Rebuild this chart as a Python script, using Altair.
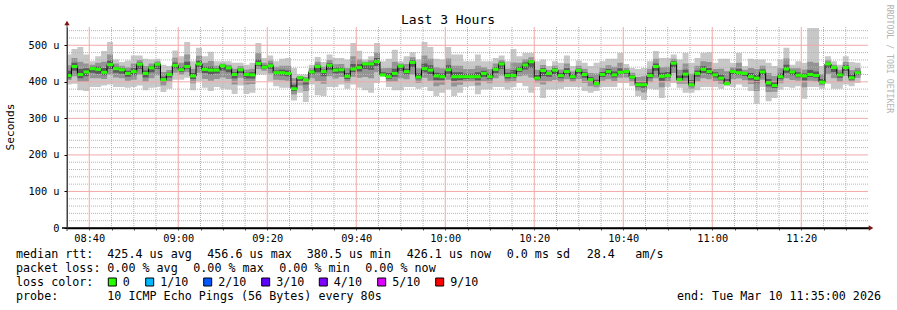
import altair as alt
import pandas as pd
from datetime import datetime, timedelta

MONO = "DejaVu Sans Mono"

# ---- data (values in microseconds) ----
MEDIAN = [417,442,420,427,436,434,426,447,436,433,
          423,428,448,423,438,448,406,420,445,433,
          442,416,449,434,432,432,444,438,420,433,
          420,419,450,440,444,425,425,423,381,411,
          405,427,442,428,445,432,433,415,435,439,
          449,449,455,419,414,423,443,428,453,413,
          436,432,416,414,433,414,414,414,414,414,
          423,414,434,449,417,417,434,446,455,410,
          431,423,432,417,428,414,431,420,406,395,
          420,428,419,426,428,413,392,392,417,442,
          415,417,451,406,421,392,423,434,428,419,
          410,395,428,425,423,414,410,427,397,390,
          414,435,427,418,416,420,417,399,449,439,
          419,439,411,425]
MAX = [475,490,495,475,456,470,484,509,461,454,
       458,472,472,463,461,463,447,443,486,470,
       509,456,493,470,482,456,456,456,452,452,
       447,452,506,465,472,456,463,465,438,420,
       420,447,468,454,475,465,465,461,506,485,
       461,470,506,456,463,488,456,470,481,461,
       509,495,463,461,495,475,475,456,456,475,
       456,456,465,472,456,490,470,479,479,456,
       461,443,456,452,472,443,458,452,443,452,
       456,463,463,479,449,438,435,438,456,484,
       465,465,475,461,479,452,465,479,481,452,
       463,463,452,479,443,463,461,461,452,443,
       461,493,447,456,452,547,547,443,470,456,
       447,470,454,452]
MIN = [393,395,377,375,386,386,390,393,386,386,
       384,386,390,377,384,386,372,381,406,406,
       411,377,402,384,375,386,381,379,367,390,
       367,370,420,420,402,388,384,384,349,370,
       345,393,363,361,386,386,393,381,393,384,
       377,370,397,414,386,377,377,386,386,381,
       386,375,361,370,379,361,370,386,388,366,
       379,379,386,386,379,386,397,388,370,386,
       356,379,379,381,386,386,386,375,370,375,
       386,386,386,397,397,388,361,350,381,379,
       356,386,397,384,370,370,377,386,386,386,
       381,388,386,393,386,375,340,386,347,356,
       379,386,384,388,354,386,386,381,395,381,
       381,393,388,397]
HI2 = [445,465,455,450,447,452,455,475,450,444,
       440,450,460,443,450,456,427,432,466,452,
       475,436,471,452,457,444,450,447,436,443,
       434,436,478,452,458,441,444,444,410,416,
       413,437,455,441,460,448,449,438,470,462,
       455,460,480,437,438,455,450,449,467,437,
       472,463,440,437,464,444,444,435,435,444,
       440,435,450,460,436,453,452,462,467,433,
       446,433,444,434,450,428,444,436,424,423,
       438,445,441,452,438,425,413,415,436,463,
       440,441,463,433,450,422,444,456,454,435,
       436,429,440,452,433,438,435,444,424,416,
       437,464,437,437,434,455,452,421,459,447,
       433,454,432,438]
LO2 = [405,415,400,400,410,410,408,420,412,410,
       403,406,420,400,410,418,390,400,425,420,
       426,396,425,408,403,408,412,408,393,411,
       393,394,435,430,423,406,404,403,365,390,
       375,410,402,395,415,409,413,398,414,411,
       413,410,426,416,400,400,410,407,420,397,
       411,403,388,392,406,387,392,400,401,390,
       401,396,410,417,398,401,415,417,412,398,
       393,401,405,399,407,400,408,397,388,385,
       403,407,402,411,412,400,376,371,399,410,
       385,401,424,395,395,381,400,410,407,402,
       395,391,407,409,404,394,375,406,372,373,
       396,410,405,403,385,403,401,390,422,410,
       400,416,400,411]
HI3 = [430,452,435,437,441,442,438,458,441,438,
       430,437,453,431,443,451,414,425,453,440,
       455,424,458,441,442,437,447,442,426,437,
       425,426,461,445,450,431,433,431,392,413,
       408,431,447,433,451,439,439,424,449,448,
       451,453,465,426,424,436,446,436,459,423,
       450,445,425,423,445,426,426,422,422,426,
       430,422,440,454,425,432,441,453,460,419,
       437,427,437,424,437,420,436,426,413,406,
       427,435,428,437,432,418,400,401,425,450,
       425,427,456,417,433,404,431,443,438,426,
       420,408,433,436,427,424,420,434,408,401,
       423,447,431,426,423,432,428,408,453,442,
       425,445,420,430]
LO3 = [410,430,410,415,425,422,418,435,425,422,
       414,418,435,412,426,435,398,412,437,427,
       436,408,440,424,420,423,431,426,409,424,
       409,409,444,436,436,418,417,415,375,403,
       393,420,426,415,433,423,425,408,427,428,
       435,433,443,417,408,414,430,420,440,407,
       426,421,405,405,422,403,405,408,409,404,
       414,407,424,436,409,411,427,434,438,405,
       416,414,421,410,420,408,422,411,399,391,
       413,420,412,420,422,408,386,384,410,430,
       403,411,440,402,411,388,414,424,420,412,
       404,394,420,419,416,406,396,419,387,383,
       407,425,418,412,404,413,411,395,438,427,
       411,430,406,419]

Y_TICKS = list(range(0, 541, 20))
LOSS_LABELS = ["0", "1/10", "2/10", "3/10", "4/10", "5/10", "9/10"]
LOSS_COLORS = ["#26ff00", "#00b8ff", "#0059ff", "#5e00ff", "#7e00ff", "#dd00ff", "#ff0000"]

TITLE = "Last 3 Hours"
ROW1 = ["median rtt:", "425.4 us avg", "456.6 us max", "380.5 us min",
        "426.1 us now", "0.0 ms sd", "28.4", "am/s"]
ROW2 = ["packet loss:", "0.00 % avg", "0.00 % max", "0.00 % min", "0.00 % now"]
ROW4 = ["probe:", "10 ICMP Echo Pings (56 Bytes) every 80s", "end: Tue Mar 10 11:35:00 2026"]

n = len(MEDIAN)
assert all(len(a) == n for a in [MAX, MIN, HI2, LO2, HI3, LO3])

start = datetime(2026, 3, 10, 8, 34, 40)
fmt = "%Y-%m-%dT%H:%M:%SZ"
t0 = [(start + timedelta(seconds=80 * i)).strftime(fmt) for i in range(n)]
t1 = [(start + timedelta(seconds=80 * (i + 1))).strftime(fmt) for i in range(n)]

steps = pd.DataFrame({"t0": t0, "t1": t1, "med": MEDIAN})
area = pd.DataFrame({
    "t": t0 + [t1[-1]],
    "med": MEDIAN + [MEDIAN[-1]],
    "mn": MIN + [MIN[-1]], "mx": MAX + [MAX[-1]],
    "lo2": LO2 + [LO2[-1]], "hi2": HI2 + [HI2[-1]],
    "lo3": LO3 + [LO3[-1]], "hi3": HI3 + [HI3[-1]],
})

# 5-minute grid times
grid_t, grid_min = [], []
for mins in range(8 * 60 + 40, 11 * 60 + 31, 5):
    grid_t.append(f"2026-03-10T{mins // 60:02d}:{mins % 60:02d}:00Z")
    grid_min.append(mins % 60)
vgrid_df = pd.DataFrame({"t": grid_t, "m": grid_min})
hgrid_df = pd.DataFrame({"v": Y_TICKS[1:]})


def dt(h, m):
    return alt.DateTime(year=2026, month=3, date=10, hours=h, minutes=m, utc=True)


x_ticks = [dt(int(s[11:13]), int(s[14:16])) for s in grid_t]

xscale = alt.Scale(type="utc", domain=[dt(8, 35), dt(11, 35)])
yscale = alt.Scale(domain=[0, 550], nice=False, zero=True)

MAJOR_GRID = "#f2aaaa"
MINOR_GRID = "#b4b4b4"

xaxis = alt.Axis(
    values=x_ticks, title=None, zindex=1,
    labelExpr="utcminutes(datum.value) % 20 == 0 ? utcFormat(datum.value, '%H:%M') : ''",
    grid=False,
    tickSize=2, tickColor="#555555",
    domainColor="black", domainWidth=1.3,
    labelFont=MONO, labelFontSize=10.3, labelColor="black", labelPadding=3,
    labelOverlap=False, labelFlush=False, labelBound=False,
)
yaxis = alt.Axis(
    values=Y_TICKS, title=None, zindex=1,
    labelExpr="datum.value % 100 == 0 ? (datum.value == 0 ? '0' : datum.value + ' u') : ''",
    grid=False,
    tickSize=3,
    tickColor={"condition": {"test": "datum.value % 100 == 0", "value": "black"},
               "value": "transparent"},
    domainColor="#444444", domainWidth=1,
    labelFont=MONO, labelFontSize=10.3, labelColor="black", labelPadding=5,
    labelOverlap=False, labelFlush=False, labelBound=False,
)

XA = alt.X("t:T", scale=xscale, axis=xaxis)
YV = alt.Y("v:Q", scale=yscale, axis=yaxis)


def band(lo, hi, color):
    return alt.Chart(area).mark_area(color=color, interpolate="step-after", clip=True, opacity=1).encode(
        x=XA, y=alt.Y(f"{lo}:Q", scale=yscale, axis=yaxis), y2=f"{hi}:Q")


outer = band("mn", "mx", "#c8c8c8")
mid = band("lo2", "hi2", "#949494")
inner = band("lo3", "hi3", "#5a5a5a")

vminor = alt.Chart(vgrid_df).transform_filter("datum.m % 20 != 0").mark_rule(
    color=MINOR_GRID, strokeWidth=1, strokeDash=[1, 1]).encode(x=XA)
vmajor = alt.Chart(vgrid_df).transform_filter("datum.m % 20 == 0").mark_rule(
    color=MAJOR_GRID, strokeWidth=1).encode(x=XA)
hminor = alt.Chart(hgrid_df).transform_filter("datum.v % 100 != 0").mark_rule(
    color=MINOR_GRID, strokeWidth=1, strokeDash=[1, 1]).encode(y=YV)
hmajor = alt.Chart(hgrid_df).transform_filter("datum.v % 100 == 0").mark_rule(
    color=MAJOR_GRID, strokeWidth=1).encode(y=YV)

medline = alt.Chart(area).mark_line(color="black", strokeWidth=1, interpolate="step-after", clip=True).encode(
    x=XA, y=alt.Y("med:Q", scale=yscale, axis=yaxis))

green = alt.Chart(steps).mark_rule(color="#26ff00", strokeWidth=3, strokeCap="butt", clip=True).encode(
    x=alt.X("t0:T", scale=xscale, axis=xaxis), x2="t1:T",
    y=alt.Y("med:Q", scale=yscale, axis=yaxis))

OX, OY = 67, 27
dummy = pd.DataFrame({"d": [0]})


def text(s, x, y, size=11.7, align="left", color="black", angle=0):
    return alt.Chart(dummy).mark_text(
        text=s, font=MONO, fontSize=size, align=align, baseline="middle",
        color=color, angle=angle).encode(x=alt.value(x - OX), y=alt.value(y - OY))


layers = [outer, mid, inner, hminor, vminor, hmajor, vmajor, medline, green]

# decorations: axis arrows and axis-line extensions
layers.append(alt.Chart(dummy).mark_rule(color="#444444", strokeWidth=1).encode(
    x=alt.value(0), y=alt.value(-4), y2=alt.value(204)))
layers.append(alt.Chart(dummy).mark_rule(color="black", strokeWidth=1.3).encode(
    x=alt.value(-5), x2=alt.value(804), y=alt.value(201)))
layers.append(alt.Chart(dummy).mark_point(shape="triangle-up", filled=True, color="#7f1414",
                                          size=28, opacity=1).encode(x=alt.value(0), y=alt.value(-4)))
layers.append(alt.Chart(dummy).mark_point(shape="triangle-right", filled=True, color="#7f1414",
                                          size=28, opacity=1).encode(x=alt.value(804), y=alt.value(201)))

layers.append(text(TITLE, 448, 19.5, size=13, align="center"))
layers.append(text("Seconds", 11, 127, size=11.2, align="center", angle=270))
layers.append(text("RRDTOOL / TOBI OETIKER", 888.5, 59, size=8.2, align="center", color="#b4b4b4", angle=90))

row1_x = [16, 107.3, 207.3, 306.7, 406.7, 506.7, 586.7, 635.3]
for s, x in zip(ROW1, row1_x):
    layers.append(text(s, x, 254))
row2_x = [16, 107.3, 193.3, 279.3, 365.3]
for s, x in zip(ROW2, row2_x):
    layers.append(text(s, x, 268))
layers.append(text("loss color:", 16, 282))
sq_x = [108.3, 145.7, 203.7, 261.7, 319.3, 377.7, 435.7]
for lab, col, x in zip(LOSS_LABELS, LOSS_COLORS, sq_x):
    layers.append(alt.Chart(dummy).mark_rect(color=col, stroke="black", strokeWidth=1).encode(
        x=alt.value(x - OX), x2=alt.value(x + 8 - OX),
        y=alt.value(278 - OY), y2=alt.value(286 - OY)))
    layers.append(text(lab, x + 14.5, 282))
layers.append(text(ROW4[0], 16, 296))
layers.append(text(ROW4[1], 107.3, 296))
layers.append(text(ROW4[2], 881, 296, align="right"))

chart = alt.layer(*layers).properties(
    width=801, height=201,
    autosize=alt.AutoSizeParams(type="none"),
    padding={"left": OX, "top": OY, "right": 897 - OX - 801, "bottom": 310 - OY - 201},
    background="white",
).configure_view(stroke=None)

chart.save("out.html", embed_options={"renderer": "svg", "actions": False})
